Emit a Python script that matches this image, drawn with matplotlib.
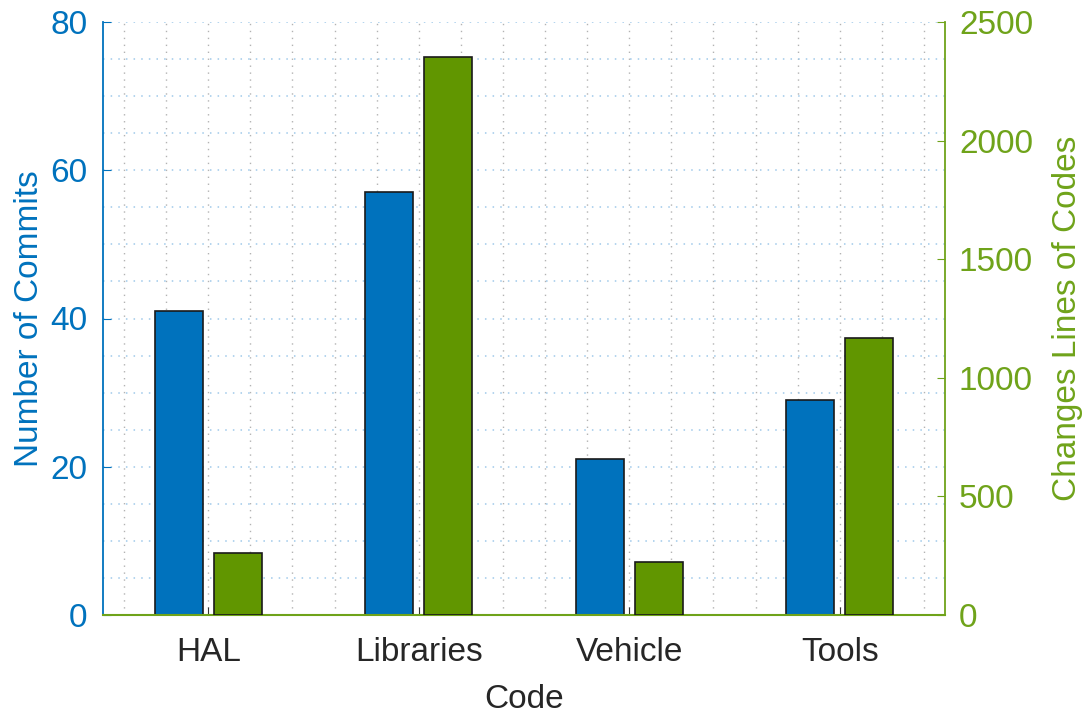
import numpy as np
import matplotlib.pyplot as plt
from matplotlib.ticker import MultipleLocator

categories = ['HAL', 'Libraries', 'Vehicle', 'Tools']
commits = [41, 57, 21, 29]
changed_lines = [262, 2352, 225, 1168]

blue = '#0072BD'
green = '#619600'
green_axis = '#6FA31A'
fs = 24

plt.rcParams['font.family'] = ['Liberation Sans', 'DejaVu Sans']

fig = plt.figure(figsize=(10.85, 7.13), dpi=100)
ax = fig.add_axes([103 / 1085, 1 - 615 / 713, 842 / 1085, 593 / 713])
ax2 = ax.twinx()

x = np.arange(1, len(categories) + 1)
w = 0.228
ax.bar(x - 0.14, commits, w, color=blue, edgecolor='#1a1a1a', linewidth=1.2, zorder=3)
ax2.bar(x + 0.14, changed_lines, w, color=green, edgecolor='#1a1a1a', linewidth=1.2, zorder=3)

ax.set_xlim(0.5, 4.5)
ax.set_ylim(0, 80)
ax2.set_ylim(0, 2500)
ax.set_xticks(x)
ax.set_xticklabels(categories)
ax.xaxis.set_minor_locator(MultipleLocator(0.2))
ax.yaxis.set_major_locator(MultipleLocator(20))
ax.yaxis.set_minor_locator(MultipleLocator(5))
ax2.yaxis.set_major_locator(MultipleLocator(500))

dots = (0, (1, 4))
ax.grid(True, which='both', axis='y', color='#9fc9ea', linestyle=dots, linewidth=1.1, zorder=0)
ax.grid(True, which='both', axis='x', color='#b3b3b3', linestyle=dots, linewidth=1.0, zorder=0)
ax.set_axisbelow(True)

for a in (ax, ax2):
    a.spines['top'].set_visible(False)
ax.spines['left'].set_color(blue)
ax.spines['left'].set_linewidth(1.3)
ax.spines['right'].set_visible(False)
ax2.spines['left'].set_visible(False)
ax2.spines['right'].set_color(green_axis)
ax2.spines['right'].set_linewidth(1.3)
ax2.spines['bottom'].set_color(green_axis)
ax2.spines['bottom'].set_linewidth(1.5)
ax.spines['bottom'].set_visible(False)

ax.tick_params(axis='y', which='major', direction='in', length=6, colors=blue, labelsize=fs, pad=11)
ax.tick_params(axis='y', which='minor', length=0)
ax.tick_params(axis='x', which='major', direction='in', length=6, color='#333333', labelcolor='#262626', labelsize=fs, pad=16)
ax.tick_params(axis='x', which='minor', length=0)
ax2.tick_params(axis='y', direction='in', length=6, colors=green_axis, labelsize=fs, pad=10)

ax.set_ylabel('Number of Commits', color=blue, fontsize=fs, labelpad=4)
ax2.set_ylabel('Changes Lines of Codes', color=green_axis, fontsize=fs, labelpad=14)
ax.set_xlabel('Code', color='#262626', fontsize=fs, labelpad=11)

fig.savefig('out.png', dpi=100)
